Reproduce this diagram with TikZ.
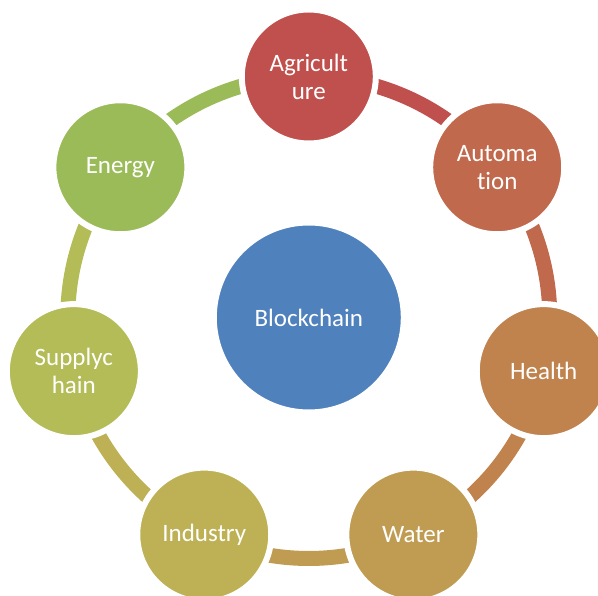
\documentclass[tikz,border=0pt]{standalone}
\usepackage{fontspec}
\setmainfont{Carlito}[Ligatures=NoCommon]
\usepackage{tikz}
\usetikzlibrary{backgrounds}
\definecolor{chainblue}{HTML}{4F81BD}
\definecolor{agricol}{HTML}{C0504D}
\definecolor{autocol}{HTML}{C0694D}
\definecolor{healthcol}{HTML}{C0834D}
\definecolor{watercol}{HTML}{BF9C52}
\definecolor{indcol}{HTML}{BEB155}
\definecolor{supcol}{HTML}{B3BC56}
\definecolor{enercol}{HTML}{9BBB59}
\tikzstyle{topic} = [circle, draw=white, line width=6pt, minimum size=134pt, inner sep=0pt, text=white, align=center, font=\fontsize{25}{28}\selectfont]
\tikzstyle{ring} = [line width=15pt]
\begin{document}
\begin{tikzpicture}
\useasboundingbox (-308.8pt,-278.5pt) rectangle (289.2pt,317.5pt);
\node [topic, fill=chainblue, minimum size=190pt] (chain) at (0,0) {Blockchain};
\node [topic, fill=agricol] (agri) at (90:241pt) {Agricult\\ure};
\node [topic, fill=autocol] (auto) at (38.57:241pt) {Automa\\tion};
\node [topic, fill=healthcol] (health) at (-12.86:241pt) {Health};
\node [topic, fill=watercol] (water) at (-64.29:241pt) {Water};
\node [topic, fill=indcol] (ind) at (-115.71:241pt) {Industry};
\node [topic, fill=supcol] (supply) at (-167.14:241pt) {Supplyc\\hain};
\node [topic, fill=enercol] (energy) at (141.43:241pt) {Energy};
% ring behind the circles
\begin{pgfonlayer}{background}
\draw [ring, agricol] (agri.center) arc[start angle=90, end angle=38.57, radius=241pt];
\draw [ring, autocol] (auto.center) arc[start angle=38.57, end angle=-12.86, radius=241pt];
\draw [ring, healthcol] (health.center) arc[start angle=-12.86, end angle=-64.29, radius=241pt];
\draw [ring, watercol] (water.center) arc[start angle=-64.29, end angle=-115.71, radius=241pt];
\draw [ring, indcol] (ind.center) arc[start angle=-115.71, end angle=-167.14, radius=241pt];
\draw [ring, supcol] (supply.center) arc[start angle=-167.14, end angle=-218.57, radius=241pt];
\draw [ring, enercol] (energy.center) arc[start angle=141.43, end angle=90, radius=241pt];
\end{pgfonlayer}
\end{tikzpicture}
\end{document}
